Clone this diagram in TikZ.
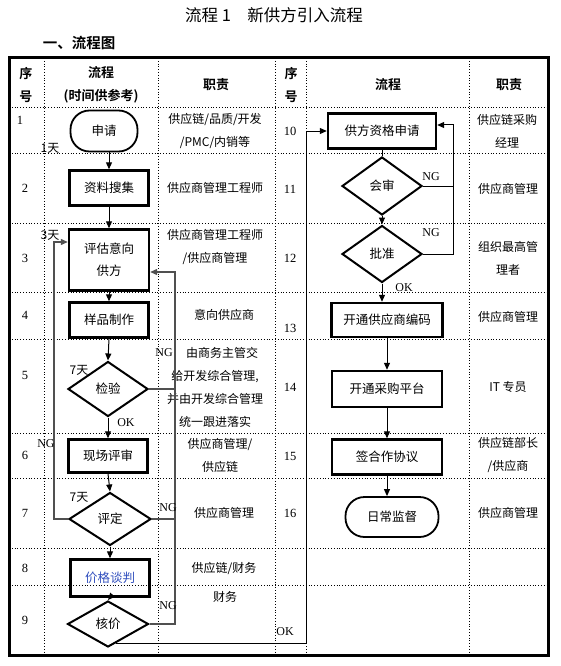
\documentclass[tikz,border=0pt]{standalone}
\usepackage{fontspec}
\setmainfont{Liberation Serif}
\newfontfamily\cjk{Noto Sans CJK SC}
\newfontfamily\cjkb{Noto Sans CJK SC Bold}
\usetikzlibrary{shapes.geometric,arrows.meta,calc}
\definecolor{ngray}{RGB}{80,80,80}
\definecolor{tblue}{RGB}{50,80,190}
\tikzset{
  grid/.style={line width=0.8pt,dotted},
  stepbox/.style={draw,line width=2.4pt,inner sep=0pt,font=\cjk\fontsize{12.5}{22}\selectfont,align=center},
  dia/.style={diamond,draw,line width=2pt,inner sep=0pt,font=\cjk\fontsize{12.5}{15}\selectfont},
  term/.style={draw,line width=1.8pt,rounded corners=19pt,inner sep=0pt,font=\cjk\fontsize{12.5}{15}\selectfont},
  resp/.style={font=\cjk\fontsize{12}{23}\selectfont,align=center,inner sep=0pt},
  num/.style={font=\fontsize{12.5}{14}\selectfont,inner sep=0pt},
  hdr/.style={font=\cjkb\fontsize{13}{23}\selectfont,align=center,inner sep=0pt},
  lbl/.style={font=\fontsize{12}{14}\selectfont,inner sep=0pt},
  clbl/.style={font=\cjk\fontsize{12}{14}\selectfont,inner sep=0pt},
  arr/.style={-{Triangle[length=7pt,width=6pt]}},
  con/.style={line width=1pt,black},
  ng/.style={line width=1.2pt,ngray},
}
\begin{document}
\begin{tikzpicture}[x=1pt,y=-1pt]
\useasboundingbox (0,0) rectangle (561,666);
% title
\node[font=\cjk\fontsize{16.5}{18}\selectfont] (title) at (274,15) {流程 1\quad 新供方引入流程};
\node[font=\cjkb\fontsize{14.5}{16}\selectfont] (sub) at (79,43) {一、流程图};
% grid
\foreach \x in {44,158,275,306,469} \draw[grid] (\x,58) -- (\x,655);
\foreach \y in {107,153,223,292,339,433,478,548,585} \draw[grid] (9,\y) -- (548,\y);
\draw[line width=3pt] (9,58) rectangle (548,655);
% headers
\node[hdr] (h1) at (26,85) {序\\号};
\node[hdr] (h2) at (101,85) {流程\\(时间供参考)};
\node[hdr] (h3) at (216,85) {职责};
\node[hdr] (h4) at (291,85) {序\\号};
\node[hdr] (h5) at (388,85) {流程};
\node[hdr] (h6) at (509,85) {职责};
% numbers
\node[num] (n1) at (20,120) {1};
\node[num] (n2) at (25,188) {2};
\node[num] (n3) at (25,258) {3};
\node[num] (n4) at (25,315) {4};
\node[num] (n5) at (25,375) {5};
\node[num] (n6) at (25,455) {6};
\node[num] (n7) at (25,513) {7};
\node[num] (n8) at (25,568) {8};
\node[num] (n9) at (25,620) {9};
\node[num] (n10) at (290,131) {10};
\node[num] (n11) at (290,189) {11};
\node[num] (n12) at (290,258) {12};
\node[num] (n13) at (290,328) {13};
\node[num] (n14) at (290,387) {14};
\node[num] (n15) at (290,456) {15};
\node[num] (n16) at (290,513) {16};
% responsibilities
\node[resp] (r1) at (215,131) {供应链/品质/开发\\/PMC/内销等};
\node[resp] (r2) at (215,188) {供应商管理工程师};
\node[resp] (r3) at (215,247) {供应商管理工程师\\/供应商管理};
\node[resp] (r4) at (224,315) {意向供应商};
\node[resp] (r5) at (215,387) {\hspace*{14pt}由商务主管交\\给开发综合管理,\\并由开发综合管理\\统一跟进落实};
\node[resp] (r6) at (220,455) {供应商管理/\\供应链};
\node[resp] (r7) at (224,513) {供应商管理};
\node[resp] (r8) at (224,568) {供应链/财务};
\node[resp] (r9) at (225,597) {财务};
\node[resp] (r10) at (507,131) {供应链采购\\经理};
\node[resp] (r11) at (508,189) {供应商管理};
\node[resp] (r12) at (508,258) {组织最高管\\理者};
\node[resp] (r13) at (508,317) {供应商管理};
\node[resp] (r14) at (508,387) {IT 专员};
\node[resp] (r15) at (508,455) {供应链部长\\/供应商};
\node[resp] (r16) at (508,513) {供应商管理};
% left flow
\node[term,minimum width=67pt,minimum height=41pt] (sq) at (104,131) {申请};
\node[stepbox,minimum width=79pt,minimum height=35pt] (zl) at (109,188) {资料搜集};
\node[stepbox,minimum width=80pt,minimum height=61pt] (pg) at (109,260) {评估意向\\供方};
\node[stepbox,minimum width=79pt,minimum height=35pt] (yp) at (109,320) {样品制作};
\node[dia,minimum width=80pt,minimum height=55pt] (jy) at (108,389) {检验};
\node[stepbox,minimum width=79pt,minimum height=33pt] (xc) at (108,456) {现场评审};
\node[dia,minimum width=82pt,minimum height=53pt] (pd) at (110,519) {评定};
\node[stepbox,minimum width=79pt,minimum height=37pt,text=tblue] (jg) at (110,578) {价格谈判};
\node[dia,minimum width=81pt,minimum height=46pt] (hj) at (108,624) {核价};
% right flow
\node[stepbox,minimum width=108pt,minimum height=35pt] (gf) at (382,131) {供方资格申请};
\node[dia,minimum width=80pt,minimum height=58pt] (hs) at (382,186) {会审};
\node[dia,minimum width=80pt,minimum height=57pt] (pz) at (382,254) {批准};
\node[stepbox,minimum width=111pt,minimum height=34pt] (bm) at (387,320) {开通供应商编码};
\node[stepbox,minimum width=110pt,minimum height=36pt] (cg) at (387,389) {开通采购平台};
\node[stepbox,minimum width=110pt,minimum height=35pt] (xy) at (387,457) {签合作协议};
\node[term,minimum width=93pt,minimum height=40pt] (rc) at (392,517) {日常监督};
% left connectors
\draw[con,arr] (sq.south -| zl.north) -- (zl.north);
\draw[con,arr] (zl.south) -- (pg.north);
\draw[con,arr] (pg.south) -- (yp.north);
\draw[con,arr] (yp.south) -- (jy.north);
\draw[con,arr] (jy.south) -- (xc.north);
\draw[con,arr] (xc.south) -- (pd.north);
\draw[con,arr] (pd.south) -- (jg.north);
\draw[con,arr] (jg.south) -- (hj.north);
% NG feedback right of left flow
\coordinate (ngtop) at (175,272);
\draw[ng,arr] (hj.east) -| (ngtop) -- (ngtop -| pg.east);
\draw[ng] (pd.east) -- (pd.east -| ngtop);
\draw[ng] (jy.east) -- (jy.east -| ngtop);
% NG loop left
\coordinate (ll) at (54,242);
\draw[ng,arr] (pd.west) -| (ll) -- (ll -| pg.west);
% OK line to right flow
\coordinate (okp) at (116,643);
\coordinate (okc) at (306,643);
\draw[con,arr] (okp) -- (okc) |- (gf.west);
% right connectors
\draw[con] (gf.south) -- (hs.north);
\draw[con,arr] (hs.south) -- (pz.north);
\draw[con,arr] (pz.south) -- (pz.south |- bm.north);
\draw[con,arr] (bm.south) -- (cg.north);
\draw[con,arr] (cg.south) -- (xy.north);
\draw[con,arr] (xy.south) -- (xy.south |- rc.north);
\coordinate (rl) at (453,254);
\draw[con,arr] (pz.east) -- (rl) |- ([yshift=6pt]gf.east);
\draw[con] (hs.east) -- (hs.east -| rl);
% labels
\node[clbl] (d1) at (50,148) {1天};
\node[clbl] (d3) at (50,235) {3天};
\node[clbl] (d7a) at (79,370) {7天};
\node[clbl] (d7b) at (79,497) {7天};
\node[lbl] (ok1) at (126,423) {OK};
\node[lbl] (ng1) at (164,353) {NG};
\node[lbl] (ng2) at (46,444) {NG};
\node[lbl] (ng3) at (168,508) {NG};
\node[lbl] (ng4) at (168,606) {NG};
\node[lbl] (ok2) at (285,632) {OK};
\node[lbl] (ng5) at (431,177) {NG};
\node[lbl] (ng6) at (431,233) {NG};
\node[lbl] (ok3) at (404,288) {OK};
\end{tikzpicture}
\end{document}
